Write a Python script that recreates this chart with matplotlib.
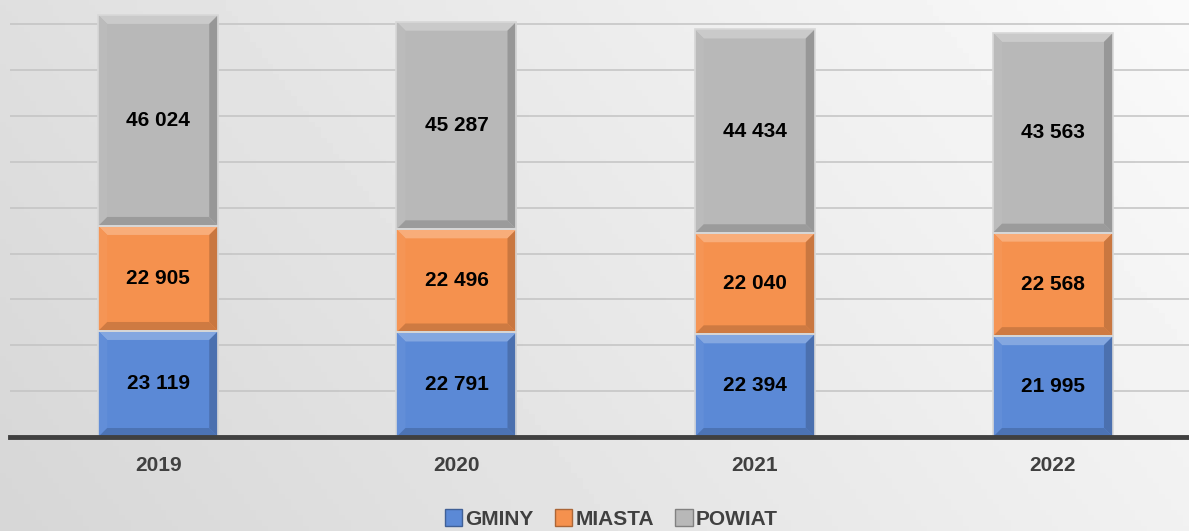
"""
stacked bars: GMINY / MIASTA / POWIAT, 2019-2022
"""

import numpy as np
import matplotlib.pyplot as plt
from matplotlib.patches import Polygon, Patch
from matplotlib.colors import to_rgb

# data
# -------------------
years = ["2019", "2020", "2021", "2022"]
gminy = [23119, 22791, 22394, 21995]
miasta = [22905, 22496, 22040, 22568]
powiat = [46024, 45287, 44434, 43563]

series_names = ["GMINY", "MIASTA", "POWIAT"]
series_colors = ["#5b89d6", "#f5914e", "#b8b8b8"]

plt.rcParams["font.family"] = ["Liberation Sans", "DejaVu Sans"]


def shade(color, f):
    # f > 0 lighter, f < 0 darker
    c = np.array(to_rgb(color))
    if f > 0:
        return tuple(c + (1 - c) * f)
    return tuple(c * (1 + f))


def label_fmt(v):
    return f"{v:,}".replace(",", " ")


fig = plt.figure(figsize=(11.89, 5.31), dpi=100)

# background gradient
bg = fig.add_axes([0, 0, 1, 1], zorder=-10)
xx, yy = np.meshgrid(np.linspace(0, 1, 200), np.linspace(0, 1, 100))
grad = 0.84 + 0.14 * (0.75 * xx + 0.25 * (1 - yy))
bg.imshow(grad, cmap="gray", vmin=0, vmax=1, aspect="auto", extent=[0, 1, 0, 1], origin="upper")
bg.axis("off")

ax = fig.add_axes([10 / 1189, 1 - 437 / 531, 1179 / 1189, 437 / 531])
ax.patch.set_alpha(0)
ax.set_xlim(-0.497, 3.456)
ax.set_ylim(0, 95300)

for y in range(10000, 100000, 10000):
    ax.axhline(y, color="#c3c3c3", lw=1.1, zorder=1)

# pixel -> data helpers for the bevel
px_x = (3.456 + 0.497) / 1179
px_y = 95300 / 437
bevel = 9
width = 120 * px_x

x = np.arange(len(years))
bottoms = np.zeros(len(years))
for vals, color in zip([gminy, miasta, powiat], series_colors):
    for xi, b, v in zip(x, bottoms, vals):
        x0, x1 = xi - width / 2, xi + width / 2
        y0, y1 = b, b + v
        bx, by = bevel * px_x, bevel * px_y
        ax.add_patch(Polygon([(x0, y0), (x1, y0), (x1, y1), (x0, y1)],
                             closed=True, fc=color, ec="none", zorder=2))
        faces = [
            ([(x0, y1), (x1, y1), (x1 - bx, y1 - by), (x0 + bx, y1 - by)], 0.25),
            ([(x0, y0), (x0, y1), (x0 + bx, y1 - by), (x0 + bx, y0 + by)], 0.04),
            ([(x1, y0), (x1, y1), (x1 - bx, y1 - by), (x1 - bx, y0 + by)], -0.18),
            ([(x0, y0), (x1, y0), (x1 - bx, y0 + by), (x0 + bx, y0 + by)], -0.16),
        ]
        for pts, f in faces:
            ax.add_patch(Polygon(pts, closed=True, fc=shade(color, f), ec="none", zorder=3))
        ax.add_patch(Polygon([(x0, y0), (x1, y0), (x1, y1), (x0, y1)],
                             closed=True, fc="none", ec="#d8d8d8", lw=1.2, zorder=4))
        ax.text(xi, b + v / 2, label_fmt(v), ha="center", va="center",
                fontsize=15, fontweight="bold", color="black", zorder=5)
    bottoms += np.array(vals)

ax.axhline(0, color="#404040", lw=3.5, zorder=6, clip_on=False)

ax.set_xticks(x)
ax.set_xticklabels(years, fontsize=15, fontweight="bold", color="#404040")
ax.tick_params(axis="x", length=0, pad=14)
ax.set_yticks([])
for s in ax.spines.values():
    s.set_visible(False)

handles = [Patch(fc=c, ec=shade(c, -0.3), lw=1) for c in series_colors]
fig.legend(handles, series_names, loc="center", bbox_to_anchor=(0.514, 1 - 519 / 531),
           ncol=3, frameon=False, handlelength=0.85, handleheight=0.85,
           handletextpad=0.15, columnspacing=1.0,
           prop={"size": 15, "weight": "bold"}, labelcolor="#404040")

fig.savefig("out.png", dpi=100)
